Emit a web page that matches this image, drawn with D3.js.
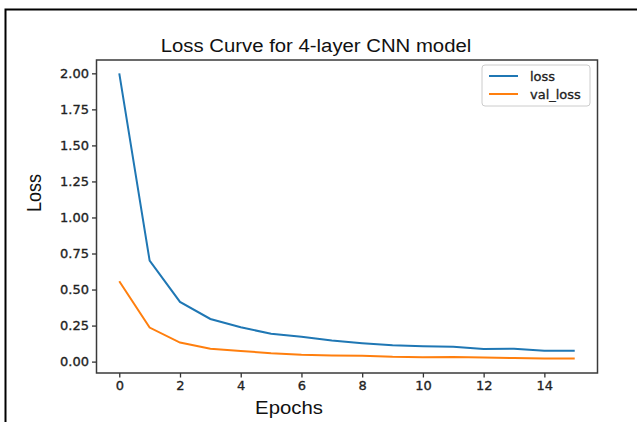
<!DOCTYPE html>
<html>
<head>
<meta charset="utf-8">
<script src="https://cdn.jsdelivr.net/npm/d3@7"></script>
<style>
  body { margin: 0; background: #fff; }
  svg { display: block; }
</style>
</head>
<body>
<div id="chart"></div>
<script>
var epochs = d3.range(16);
var lossValues = [2.0, 0.70, 0.414, 0.296, 0.238, 0.193, 0.172, 0.146, 0.128, 0.113, 0.107, 0.103, 0.088, 0.089, 0.076, 0.076];
var valLossValues = [0.558, 0.236, 0.132, 0.089, 0.074, 0.058, 0.048, 0.043, 0.041, 0.033, 0.030, 0.032, 0.028, 0.025, 0.022, 0.022];
var xTicks = [0, 2, 4, 6, 8, 10, 12, 14];
var yTicks = [0, 0.25, 0.5, 0.75, 1.0, 1.25, 1.5, 1.75, 2.0];
var seriesNames = ["loss", "val_loss"];
var seriesColors = ["#1f77b4", "#ff7f0e"];

var width = 637, height = 422;
var plot = {left: 96.5, right: 597.5, top: 60, bottom: 373};
var stretch = 1.13; // the screenshot is a bit wider than it is tall

var svg = d3.select("#chart")
    .append("svg")
    .attr("width", width)
    .attr("height", height);

// outer frame of the screenshot
svg.append("rect")
    .attr("x", 5.5).attr("y", 9.5)
    .attr("width", 700).attr("height", 500)
    .attr("fill", "none")
    .attr("stroke", "#000")
    .attr("stroke-width", 2);

var x = d3.scaleLinear().domain([-0.75, 15.75]).range([plot.left, plot.right]);
var y = d3.scaleLinear().domain([-0.079, 2.0925]).range([plot.bottom, plot.top]);

var xAxis = svg.append("g")
    .attr("transform", "translate(0," + plot.bottom + ")")
    .call(d3.axisBottom(x).tickValues(xTicks).tickSize(4.5).tickPadding(4).tickFormat(d3.format("d")));

var yAxis = svg.append("g")
    .attr("transform", "translate(" + plot.left + ",0)")
    .call(d3.axisLeft(y).tickValues(yTicks).tickSize(4.5).tickPadding(3).tickFormat(d3.format(".2f")));

[xAxis, yAxis].forEach(function(g) {
    g.select(".domain").remove();
    g.selectAll(".tick line").attr("stroke", "#333").attr("stroke-width", 1.3);
    g.selectAll(".tick text")
        .attr("fill", "#222")
        .attr("stroke", "#222")
        .attr("stroke-width", 0.3)
        .style("font-family", "DejaVu Sans, sans-serif")
        .style("font-size", "11.5px")
        .each(function() {
            var t = d3.select(this);
            var tx = +t.attr("x") || 0, ty = +t.attr("y") || 0;
            t.attr("x", 0).attr("y", 0)
             .attr("transform", "translate(" + tx + "," + ty + ") scale(" + stretch + ",1)");
        });
});

// spines
svg.append("rect")
    .attr("x", plot.left).attr("y", plot.top)
    .attr("width", plot.right - plot.left)
    .attr("height", plot.bottom - plot.top)
    .attr("fill", "none")
    .attr("stroke", "#3a3a3a")
    .attr("stroke-width", 1.5);

var line = d3.line()
    .x(function(d, i) { return x(epochs[i]); })
    .y(function(d) { return y(d); });

[lossValues, valLossValues].forEach(function(vals, k) {
    svg.append("path")
        .datum(vals)
        .attr("d", line)
        .attr("fill", "none")
        .attr("stroke", seriesColors[k])
        .attr("stroke-width", 2);
});

function label(txt, tx, ty, size, rot) {
    svg.append("text")
        .attr("transform", "translate(" + tx + "," + ty + ")" + (rot ? " rotate(-90) scale(1," + stretch + ")" : " scale(" + stretch + ",1)"))
        .attr("text-anchor", "middle")
        .attr("fill", "#111")
        .style("font-family", "Liberation Sans, Arial, sans-serif")
        .style("font-size", size + "px")
        .text(txt);
}

label("Loss Curve for 4-layer CNN model", 316, 52, 18);
label("Epochs", 289, 414, 18);
label("Loss", 41, 193, 18, true);

// legend
var legend = svg.append("g").attr("transform", "translate(482,65)");
legend.append("rect")
    .attr("width", 108).attr("height", 41)
    .attr("rx", 3)
    .attr("fill", "#fff")
    .attr("stroke", "#ccc");
seriesNames.forEach(function(name, k) {
    var yy = 11 + k * 18;
    legend.append("line")
        .attr("x1", 7).attr("x2", 36)
        .attr("y1", yy).attr("y2", yy)
        .attr("stroke", seriesColors[k])
        .attr("stroke-width", 2);
    legend.append("text")
        .attr("transform", "translate(48," + (yy + 4.5) + ") scale(" + stretch + ",1)")
        .attr("fill", "#222")
        .attr("stroke", "#222")
        .attr("stroke-width", 0.3)
        .style("font-family", "DejaVu Sans, sans-serif")
        .style("font-size", "11.5px")
        .text(name);
});
</script>
</body>
</html>
